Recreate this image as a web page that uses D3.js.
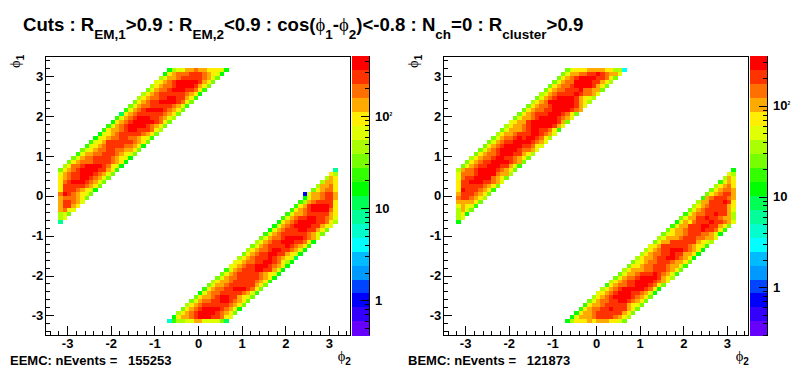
<!DOCTYPE html>
<html><head><meta charset="utf-8">
<script src="https://cdn.jsdelivr.net/npm/d3@7"></script>
<style>
html,body{margin:0;padding:0;background:#fff}
svg{display:block}
text{font-family:"Liberation Sans",Arial,sans-serif;font-weight:bold;fill:#000}
.sym{font-family:"Liberation Serif",serif;font-weight:normal}
.domain{display:none}
.tick line{stroke:#000;stroke-width:1}
</style></head><body>
<script>
// Colour levels, index 0 (top of the palette) to 19 (bottom)
const palette = ["#ff0000","#ff3300","#ff7000","#ffaa00","#ffee00","#e0ff00","#aaff00","#77ff00","#33ff00","#00ff00",
                 "#00ff55","#00ff99","#00ffcc","#00ffff","#00bbff","#0099ff","#0044ff","#0000ff","#3300ff","#6600ff"];
const majorTicks = [-3,-2,-1,0,1,2,3];
const minorTicks = d3.range(-34,35,2).map(d=>d/10).filter(d=>!majorTicks.includes(d));

// Each string = one row of phi1 bins, each character = colour level (base 36) of one phi2 bin.
// Upper band: listed from phi1 bin 3.1 downwards. Lower band: listed from phi1 bin -3.2 upwards.
const eemcUpper = ["96553323344459","94322211123459","65332111112357","54321000001347","64322100001347","75322100011248",
"64321111112349","64322110011348","74321100001247","75322111112358","85321000012347","a4321111112347","85321000112356",
"94321000001247","85321000012347","84332100111246","95432111112347","95432211223458","85431111112347","85432111122349",
"75432211223347","85332211123457","75322111123459","74322211112349","64221000012459","74321000011348",
"5321100012357","432110012357","42100012357","4111112347","411123459","20123457","3222347","311235","31134","3245","657","65","b"];
const eemcLower = ["c866553355557a","94332100011245","64321000012347","74321000012359","64321111112347","75322110012347",
"74332100113457","95322111112358","84322110001247","75332111111347","64332111112348","75322111112349","75321111123459",
"85321110011359","54321100012349","54322110012469","6432111012345a","74321100113459","64322100112359","75321111012348",
"65321100011249","75322100001235","85321111112357","95321110011347","95321000011345","94321000011246",
"8532110011235","853321111134","84321000024","8431000014","863211114","95332113","5332113","743224","63324","6334","634","46","b"];
const eemcOutliers = [{phi2Bin:59, phi1Bin:35, level:17}];

const bemcUpper = ["7544433334466d","75332211012335","74321000011247","75322000011346","74322100001347","74322111022337",
"65321111012235","75321000013456","64320000001346","74322100000135","74322110000123","74321110001247","75332100001235",
"54331000000137","64332100000135","75333210011248","64332111001235","75322101001246","75321100001235","74321000011245",
"75321000012235","74322100011346","64322100112347","74321100001237","75321100011358","63221000012347",
"5222100002336","521100002347","41100011235","4111112347","401112348","31112347","2112346","333347","53458","6357","649","65","9"];
const bemcLower = ["96444343334457","95333211112346","94332111111347","84322110111347","84332111113457","75322110012347",
"64321000012347","54321000112359","64321000001249","84322110001247","64321100001235","75322100001346","75332111012358",
"64333221112347","74432211123358","75432211123347","64332110012349","64322110113349","64321100012349","54311111123458",
"75331111113456","65333211122335","75433211122359","74332111011248","85331110011347","95342111011235",
"7533110112336","853221101136","75321111135","6432111134","633111014","83211123","7432113","743223","64324","8534","635","56","9"];

const panels = [
  {upper:eemcUpper, lower:eemcLower, outliers:eemcOutliers, left:45.3, right:350.7, barL:352, barR:369.5, zDomain:[0.416,447], label:"EEMC: nEvents =\u00a0\u00a0\u00a0155253", labelX:10},
  {upper:bemcUpper, lower:bemcLower, outliers:[], left:443.3, right:748.7, barL:750, barR:767.5, zDomain:[0.296,351], label:"BEMC: nEvents =\u00a0\u00a0\u00a0121873", labelX:408}
];
const top_=56.3, bottom_=335.3;
const svg = d3.select("body").append("svg").attr("width",796).attr("height",374);

// Title
const title = svg.append("text").attr("x",23).attr("y",31).style("font-size","18.6px");
const titleParts = [["Cuts : R",0],["EM,1",1],[">0.9 : R",0],["EM,2",1],["<0.9 : cos(",0],["\u03D5",2],["1",1],["-",0],["\u03D5",2],["2",1],[")<-0.8 : N",0],["ch",1],["=0 : R",0],["cluster",1],[">0.9",0]];
let state=0;
titleParts.forEach(([t,k])=>{
  const sp = title.append("tspan").text(t);
  const target = k===1?1:0;
  if(target!==state){ sp.attr("dy", target?7.5:-7.5); state=target; }
  if(k===1) sp.style("font-size","13.5px");
  if(k===2) sp.attr("class","sym").style("font-size","18.6px");
});

function phiLabel(g,x,y,sub,rot){
  const t=g.append("text").attr("transform",`translate(${x},${y})`+(rot?" rotate(-90)":""));
  t.append("tspan").attr("class","sym").style("font-size","14.5px").text("\u03D5");
  t.append("tspan").attr("dy",4).style("font-size","10px").text(sub);
}

panels.forEach(p=>{
  const g = svg.append("g");
  const x = d3.scaleLinear().domain([-3.5,3.5]).range([p.left,p.right]);
  const y = d3.scaleLinear().domain([-3.5,3.5]).range([bottom_,top_]);
  const binX = k=>-3.5+0.1*k;
  const cells=[];
  p.upper.forEach((s,r)=>{ const i=66-r; const k0=Math.max(3,i-38);
    [...s].forEach((c,j)=>cells.push({k:k0+j,i,level:parseInt(c,36)})); });
  p.lower.forEach((s,r)=>{ const i=3+r; const k0=i+25;
    [...s].forEach((c,j)=>cells.push({k:k0+j,i,level:parseInt(c,36)})); });
  p.outliers.forEach(o=>cells.push({k:o.phi2Bin,i:o.phi1Bin,level:o.level}));
  g.append("g").attr("shape-rendering","crispEdges").selectAll("rect").data(cells).join("rect")
    .attr("x",d=>x(binX(d.k))).attr("width",d=>x(binX(d.k+1))-x(binX(d.k)))
    .attr("y",d=>y(binX(d.i+1))).attr("height",d=>y(binX(d.i))-y(binX(d.i+1)))
    .attr("fill",d=>palette[d.level]);

  // Axes
  const fmt=d=>d;
  g.append("g").attr("transform",`translate(0,${bottom_})`).attr("shape-rendering","crispEdges")
    .call(d3.axisBottom(x).tickValues(minorTicks).tickSize(-4.5).tickFormat(""));
  g.append("g").attr("transform",`translate(0,${bottom_})`).attr("shape-rendering","crispEdges")
    .call(d3.axisBottom(x).tickValues(majorTicks).tickSize(-9).tickPadding(6).tickFormat(fmt))
    .selectAll("text").style("font-size","13px").attr("dy","0.72em").attr("y",3);
  g.append("g").attr("transform",`translate(${p.left},0)`).attr("shape-rendering","crispEdges")
    .call(d3.axisLeft(y).tickValues(minorTicks).tickSize(-4.5).tickFormat(""));
  g.append("g").attr("transform",`translate(${p.left},0)`).attr("shape-rendering","crispEdges")
    .call(d3.axisLeft(y).tickValues(majorTicks).tickSize(-9).tickPadding(2).tickFormat(fmt))
    .selectAll("text").style("font-size","13px");
  g.append("rect").attr("x",p.left).attr("y",top_).attr("width",p.right-p.left).attr("height",bottom_-top_)
    .attr("fill","none").attr("stroke","#000").attr("stroke-width",1).attr("shape-rendering","crispEdges");

  // Colour bar
  const lev = d3.scaleBand().domain(d3.range(20)).range([top_,bottom_]);
  g.append("g").attr("shape-rendering","crispEdges").selectAll("rect").data(palette).join("rect")
    .attr("x",p.barL).attr("width",p.barR-p.barL)
    .attr("y",(d,i)=>lev(i)).attr("height",lev.bandwidth()+0.5).attr("fill",d=>d);
  const z = d3.scaleLog().domain(p.zDomain).range([bottom_,top_]);
  const zMinor=[0.3,0.4,0.5,0.6,0.7,0.8,0.9,2,3,4,5,6,7,8,9,20,30,40,50,60,70,80,90,200,300,400].filter(v=>v>=p.zDomain[0]&&v<=p.zDomain[1]);
  g.append("g").attr("transform",`translate(${p.barR},0)`).attr("shape-rendering","crispEdges")
    .call(d3.axisRight(z).tickValues(zMinor).tickSize(-4.5).tickFormat(""));
  const zAxis=g.append("g").attr("transform",`translate(${p.barR},0)`).attr("shape-rendering","crispEdges")
    .call(d3.axisRight(z).tickValues([1,10,100]).tickSize(-9).tickPadding(5.5).tickFormat(d=>d===100?"10":d));
  zAxis.selectAll("text").style("font-size","13px");
  zAxis.selectAll(".tick").filter(d=>d===100).select("text").append("tspan").attr("dy",-5).style("font-size","5px").text("2");
  g.append("line").attr("x1",p.barR).attr("x2",p.barR).attr("y1",top_).attr("y2",bottom_).attr("stroke","#000").attr("shape-rendering","crispEdges");

  // Labels
  g.append("text").attr("x",p.labelX).attr("y",365).style("font-size","13px").text(p.label);
  phiLabel(g,p.right-13,361,"2",false);
  phiLabel(g,p.left-25,68,"1",true);
});
</script>
</body></html>
